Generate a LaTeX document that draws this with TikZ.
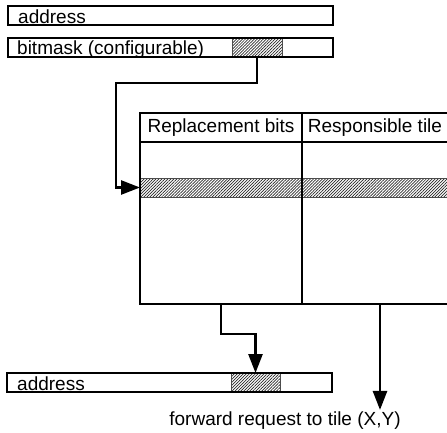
\documentclass[tikz,border=0pt]{standalone}
\usepackage{fontspec}
\setmainfont{Liberation Sans}
\usetikzlibrary{arrows.meta,patterns.meta}

\tikzset{
  bar/.style={draw,line width=2.6pt,anchor=north west,minimum height=19pt,
    minimum width=325pt,inner sep=0pt,outer sep=0pt},
  bartext/.style={anchor=base west,inner sep=0pt,font=\fontsize{19}{21}\selectfont},
  hatch/.style={draw=black!70,line width=0.6pt,anchor=north west,inner sep=0pt,outer sep=0pt,
    pattern={Lines[angle=45,distance=2.1pt,line width=0.7pt]},pattern color=black!85},
  cell/.style={draw,line width=1.4pt,anchor=north west,inner sep=0pt,outer sep=0pt,
    font=\fontsize{19}{21}\selectfont},
  arr/.style={line width=2.6pt,-{Triangle[length=19pt,width=14pt]}},
}

\begin{document}
\begin{tikzpicture}[x=1pt,y=1pt]
  \useasboundingbox (0,0) rectangle (447,-433);
  \clip (0,0) rectangle (447,-433);

  % address and mask on top
  \node[hatch,minimum width=50pt,minimum height=19pt] (mask) at (232,-38) {};
  \node[bar] (addr) at (8,-6) {};
  \node[bartext] (addrtxt) at ([xshift=10pt,yshift=1.5pt]addr.south west) {address};
  \node[bar] (bitmask) at (8,-38) {};
  \node[bartext] (bitmasktxt) at ([xshift=9pt,yshift=2.5pt]bitmask.south west) {bitmask (configurable)};

  % table
  \node[hatch,minimum width=318pt,minimum height=19pt] (hrow) at (140,-178) {};
  \node[cell,minimum width=162pt,minimum height=29pt] (headA) at (140,-113) {Replacement bits};
  \node[cell,minimum width=146pt,minimum height=29pt] (headB) at (302,-113) {Responsible tile};
  \node[cell,minimum width=162pt,minimum height=162pt] (cellA) at (140,-142) {};
  \node[cell,minimum width=156pt,minimum height=162pt] (cellB) at (302,-142) {};

  % result
  \node[hatch,minimum width=49pt,minimum height=19pt] (mask2) at (231,-373) {};
  \node[bar] (addr2) at (7,-373) {};
  \node[bartext] (addr2txt) at ([xshift=10pt,yshift=1.5pt]addr2.south west) {address};
  \node[font=\fontsize{19}{21}\selectfont,inner sep=2pt] (fwd) at (285,-421) {forward request to tile (X,Y)};

  \coordinate (turnA) at (116,-83);
  \draw[arr] (mask.south) |- (turnA) |- (hrow.west);
  \draw[arr] (cellA.south) -- ++(0,-30) -| (mask2.north);
  \draw[arr] (cellB.south) -- (cellB.south |- fwd.north);
\end{tikzpicture}
\end{document}
